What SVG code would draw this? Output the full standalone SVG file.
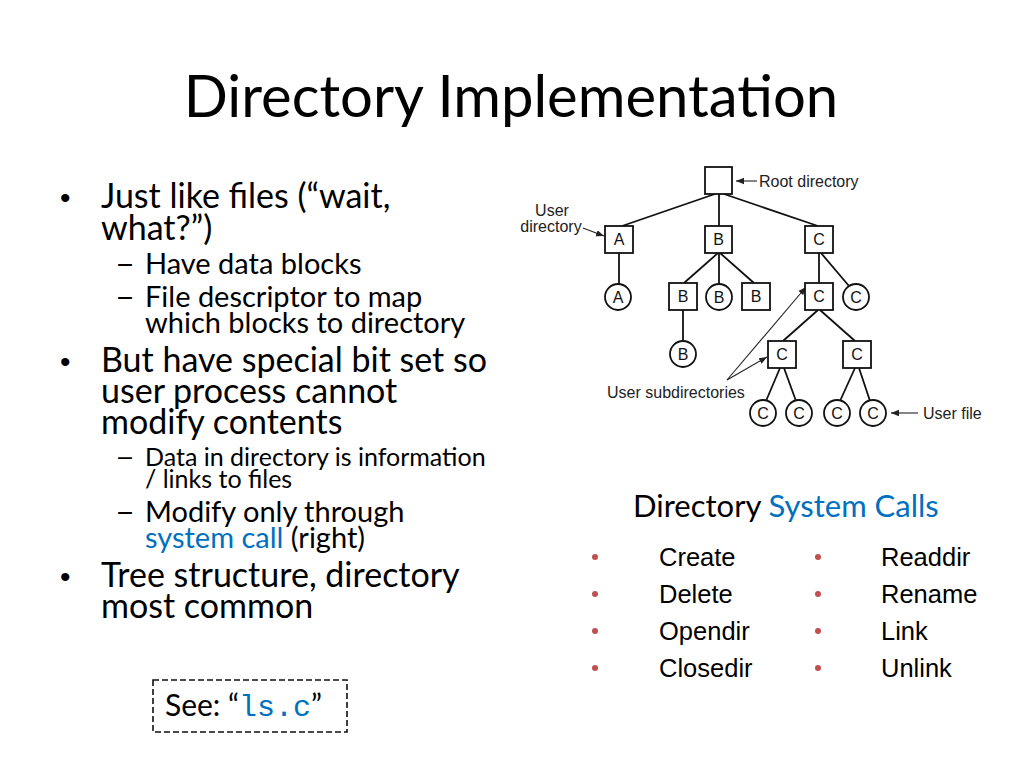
<svg xmlns="http://www.w3.org/2000/svg" width="1024" height="768" viewBox="0 0 1024 768">
<defs>
<style>
.t{font-family:Lato,"Open Sans",sans-serif;fill:#000}
.title{font-size:58px}
.b1{font-size:34px}
.b2{font-size:29px}
.b3{font-size:25px}
.blue{fill:#0070C0}
.a{font-family:"Liberation Sans",Arial,sans-serif}
.lbl{font-size:16px;fill:#222}
.nl{font-size:16px;fill:#111;text-anchor:middle}
.call{font-size:25.5px;fill:#000}
.dot{fill:#C0504D}
.node rect,.node circle{fill:#fff;stroke:#111;stroke-width:1.8}
.edge{stroke:#111;stroke-width:1.8;fill:none}
.ann{stroke:#222;stroke-width:1.1;fill:none;marker-end:url(#ah)}
</style>
<marker id="ah" viewBox="0 0 10 10" refX="10" refY="5" markerWidth="8" markerHeight="8" markerUnits="userSpaceOnUse" orient="auto">
<path d="M0,1 L10,5 L0,9 z" fill="#222"/>
</marker>
</defs>
<rect width="1024" height="768" fill="#fff"/>
<text class="t title" x="511" y="117" text-anchor="middle">Directory Implementation</text>

<g id="left-text">
<text class="a" x="60" y="208" font-size="30">•</text>
<text class="t b1" x="101" y="208">Just like files (“wait,<tspan x="101" dy="32">what?”)</tspan></text>
<text class="t b2" x="115" y="274" textLength="20" lengthAdjust="spacingAndGlyphs">–</text>
<text class="t b2" x="145" y="274">Have data blocks</text>
<text class="t b2" x="115" y="307" textLength="20" lengthAdjust="spacingAndGlyphs">–</text>
<text class="t b2" x="145" y="307">File descriptor to map<tspan x="145" dy="26">which blocks to directory</tspan></text>
<text class="a" x="60" y="372" font-size="30">•</text>
<text class="t b1" x="101" y="372">But have special bit set so<tspan x="101" dy="31">user process cannot</tspan><tspan x="101" dy="31">modify contents</tspan></text>
<text class="t b3" x="115" y="466" textLength="20" lengthAdjust="spacingAndGlyphs">–</text>
<text class="t b3" x="145" y="466">Data in directory is information<tspan x="145" dy="22">/ links to files</tspan></text>
<text class="t b2" x="115" y="522" textLength="20" lengthAdjust="spacingAndGlyphs">–</text>
<text class="t b2" x="145" y="522">Modify only through<tspan x="145" dy="26" class="blue">system call</tspan><tspan> (right)</tspan></text>
<text class="a" x="60" y="587" font-size="30">•</text>
<text class="t b1" x="101" y="587">Tree structure, directory<tspan x="101" dy="31">most common</tspan></text>
</g>

<g id="see-box">
<rect x="153" y="680" width="194" height="52" fill="none" stroke="#111" stroke-width="1.6" stroke-dasharray="6,3"/>
<text class="t" x="165" y="716" font-size="30">See: “<tspan font-family="'Liberation Mono',monospace" fill="#0070C0" font-size="30">ls.c</tspan>”</text>
</g>

<g id="connectors">
<line class="edge" x1="715" y1="194" x2="622" y2="226"/>
<line class="edge" x1="719" y1="194" x2="719" y2="226"/>
<line class="edge" x1="724" y1="194" x2="818" y2="226"/>
<line class="edge" x1="619" y1="253" x2="619" y2="284"/>
<line class="edge" x1="718" y1="253" x2="684" y2="283"/>
<line class="edge" x1="719" y1="253" x2="719" y2="284"/>
<line class="edge" x1="720" y1="253" x2="754" y2="283"/>
<line class="edge" x1="819" y1="253" x2="819" y2="283"/>
<line class="edge" x1="821" y1="253" x2="849" y2="286"/>
<line class="edge" x1="683" y1="310" x2="683" y2="341"/>
<line class="edge" x1="818" y1="310" x2="783" y2="341"/>
<line class="edge" x1="820" y1="310" x2="855" y2="341"/>
<line class="edge" x1="780" y1="368" x2="766" y2="401"/>
<line class="edge" x1="784" y1="368" x2="796" y2="401"/>
<line class="edge" x1="855" y1="368" x2="840" y2="401"/>
<line class="edge" x1="859" y1="368" x2="870" y2="401"/>
<line class="ann" x1="757" y1="181" x2="736" y2="181"/>
<line class="ann" x1="583" y1="228" x2="604" y2="236"/>
<line class="ann" x1="727" y1="380" x2="767" y2="357"/>
<line class="ann" x1="727" y1="380" x2="806" y2="287"/>
<line class="ann" x1="918" y1="413" x2="891" y2="413"/>
</g>

<g id="root" class="node"><rect x="705" y="167" width="27" height="27"/></g>
<g id="dirA" class="node"><rect x="605" y="226" width="28" height="27"/><text class="a nl" x="619" y="245">A</text></g>
<g id="dirB" class="node"><rect x="705" y="226" width="27" height="27"/><text class="a nl" x="718.5" y="245">B</text></g>
<g id="dirC" class="node"><rect x="805" y="226" width="28" height="27"/><text class="a nl" x="819" y="245">C</text></g>
<g id="fileA" class="node"><circle cx="618" cy="297" r="13"/><text class="a nl" x="618" y="303">A</text></g>
<g id="dirB1" class="node"><rect x="669" y="283" width="28" height="27"/><text class="a nl" x="683" y="302">B</text></g>
<g id="fileB" class="node"><circle cx="719" cy="297" r="13"/><text class="a nl" x="719" y="303">B</text></g>
<g id="dirB2" class="node"><rect x="742" y="283" width="28" height="27"/><text class="a nl" x="756" y="302">B</text></g>
<g id="dirC1" class="node"><rect x="805" y="283" width="28" height="27"/><text class="a nl" x="819" y="302">C</text></g>
<g id="fileC1" class="node"><circle cx="856" cy="297" r="13"/><text class="a nl" x="856" y="303">C</text></g>
<g id="fileB3" class="node"><circle cx="683" cy="354" r="13"/><text class="a nl" x="683" y="360">B</text></g>
<g id="dirC2" class="node"><rect x="768" y="341" width="28" height="27"/><text class="a nl" x="782" y="360">C</text></g>
<g id="dirC3" class="node"><rect x="843" y="341" width="28" height="27"/><text class="a nl" x="857" y="360">C</text></g>
<g id="fileC2" class="node"><circle cx="763" cy="413" r="13"/><text class="a nl" x="763" y="419">C</text></g>
<g id="fileC3" class="node"><circle cx="799" cy="413" r="13"/><text class="a nl" x="799" y="419">C</text></g>
<g id="fileC4" class="node"><circle cx="837" cy="413" r="13"/><text class="a nl" x="837" y="419">C</text></g>
<g id="fileC5" class="node"><circle cx="873" cy="413" r="13"/><text class="a nl" x="873" y="419">C</text></g>

<g id="labels">
<text class="a lbl" x="552" y="216" text-anchor="middle">User<tspan x="551" dy="16">directory</tspan></text>
<text class="a lbl" x="759" y="187">Root directory</text>
<text class="a lbl" x="607" y="398">User subdirectories</text>
<text class="a lbl" x="923" y="419">User file</text>
</g>

<g id="syscalls">
<text class="t" x="633" y="517" font-size="31">Directory <tspan class="blue">System Calls</tspan></text>
<circle class="dot" cx="595" cy="557" r="3"/>
<circle class="dot" cx="595" cy="594" r="3"/>
<circle class="dot" cx="595" cy="631" r="3"/>
<circle class="dot" cx="595" cy="668" r="3"/>
<circle class="dot" cx="818" cy="557" r="3"/>
<circle class="dot" cx="818" cy="594" r="3"/>
<circle class="dot" cx="818" cy="631" r="3"/>
<circle class="dot" cx="818" cy="668" r="3"/>
<text class="a call" x="659" y="566">Create</text>
<text class="a call" x="659" y="603">Delete</text>
<text class="a call" x="659" y="640">Opendir</text>
<text class="a call" x="659" y="677">Closedir</text>
<text class="a call" x="881" y="566">Readdir</text>
<text class="a call" x="881" y="603">Rename</text>
<text class="a call" x="881" y="640">Link</text>
<text class="a call" x="881" y="677">Unlink</text>
</g>
</svg>
